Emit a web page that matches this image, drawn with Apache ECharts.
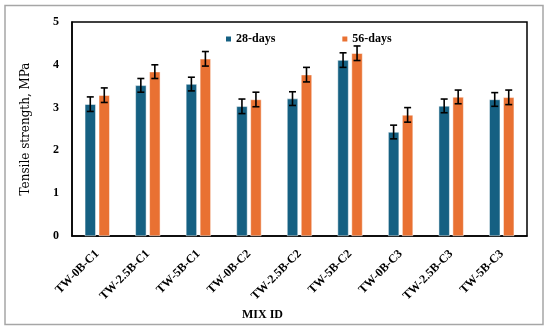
<!DOCTYPE html>
<html><head><meta charset="utf-8">
<script src="https://cdn.jsdelivr.net/npm/echarts@6/dist/echarts.min.js"></script>
<style>html,body{margin:0;padding:0;background:#fff}#c{width:550px;height:332px}</style>
</head><body><div id="c"></div>
<script>
var categories = ['TW-0B-C1','TW-2.5B-C1','TW-5B-C1','TW-0B-C2','TW-2.5B-C2','TW-5B-C2','TW-0B-C3','TW-2.5B-C3','TW-5B-C3'];
var days28 = [3.08, 3.52, 3.55, 3.03, 3.21, 4.11, 2.43, 3.04, 3.19];
var days56 = [3.29, 3.84, 4.14, 3.19, 3.77, 4.27, 2.83, 3.25, 3.24];
var err28 = [0.17, 0.16, 0.16, 0.17, 0.16, 0.17, 0.16, 0.16, 0.16];
var err56 = [0.17, 0.16, 0.17, 0.17, 0.17, 0.17, 0.17, 0.16, 0.17];
var yTicks = [0, 1, 2, 3, 4, 5];

var FONT = 'Liberation Serif';
var chart = echarts.init(document.getElementById('c'));

function errSeries(vals, errs, offset) {
  return {
    type: 'custom',
    silent: true,
    z: 10,
    data: vals.map(function (v, i) { return [i, v, errs[i]]; }),
    renderItem: function (params, api) {
      var i = api.value(0), v = api.value(1), e = api.value(2);
      var hi = api.coord([i, v + e]);
      var lo = api.coord([i, v - e]);
      var x = hi[0] + offset;
      var cap = 3.5;
      var st = { stroke: '#000', lineWidth: 1.6 };
      return {
        type: 'group',
        children: [
          { type: 'line', shape: { x1: x, y1: hi[1], x2: x, y2: lo[1] }, style: st },
          { type: 'line', shape: { x1: x - cap, y1: hi[1], x2: x + cap, y2: hi[1] }, style: st },
          { type: 'line', shape: { x1: x - cap, y1: lo[1], x2: x + cap, y2: lo[1] }, style: st }
        ]
      };
    }
  };
}

chart.setOption({
  animation: false,
  textStyle: { fontFamily: FONT },
  graphic: [
    { type: 'rect', shape: { x: 5, y: 5.5, width: 538, height: 319 }, style: { fill: 'none', stroke: '#a6a6a6', lineWidth: 1.5 }, z: -1 },
    { type: 'text', left: 242, top: 309, style: { text: 'MIX ID', font: 'bold 12px "Liberation Serif"', fill: '#000' } }
  ],
  legend: {
    top: 28,
    left: 219,
    itemWidth: 7,
    itemHeight: 7,
    itemGap: 65,
    icon: 'rect',
    textStyle: { fontFamily: FONT, fontWeight: 'bold', fontSize: 12, color: '#000', padding: [0, 0, 0, -1] },
    data: ['28-days', '56-days']
  },
  grid: { left: 72, top: 22, right: 23, bottom: 96, show: true, borderColor: '#000', borderWidth: 1.5, backgroundColor: 'transparent' },
  xAxis: {
    type: 'category',
    data: categories,
    axisLine: { lineStyle: { color: '#000', width: 1.5 } },
    axisTick: { show: false },
    axisLabel: { rotate: 45, interval: 0, margin: 16, color: '#000', fontFamily: FONT, fontWeight: 'bold', fontSize: 12 }
  },
  yAxis: {
    type: 'value',
    min: 0, max: 5, interval: 1,
    name: 'Tensile strength, MPa',
    nameLocation: 'middle',
    nameGap: 40,
    nameTextStyle: { fontFamily: 'DejaVu Serif', fontSize: 12, color: '#000' },
    axisLine: { show: true, lineStyle: { color: '#000', width: 1.5 } },
    axisTick: { show: false },
    splitLine: { show: false },
    axisLabel: { color: '#000', fontFamily: FONT, fontWeight: 'bold', fontSize: 12, margin: 13,
      formatter: function (v) { return yTicks.indexOf(v) >= 0 ? String(v) : ''; } }
  },
  series: [
    { name: '28-days', type: 'bar', data: days28, barWidth: 11, barGap: '27%', itemStyle: { color: '#156082', borderColor: '#ffffff', borderWidth: 0.5 } },
    { name: '56-days', type: 'bar', data: days56, barWidth: 11, barGap: '27%', itemStyle: { color: '#E97132', borderColor: '#ffffff', borderWidth: 0.5 } },
    errSeries(days28, err28, -7),
    errSeries(days56, err56, 7)
  ]
});
</script></body></html>
